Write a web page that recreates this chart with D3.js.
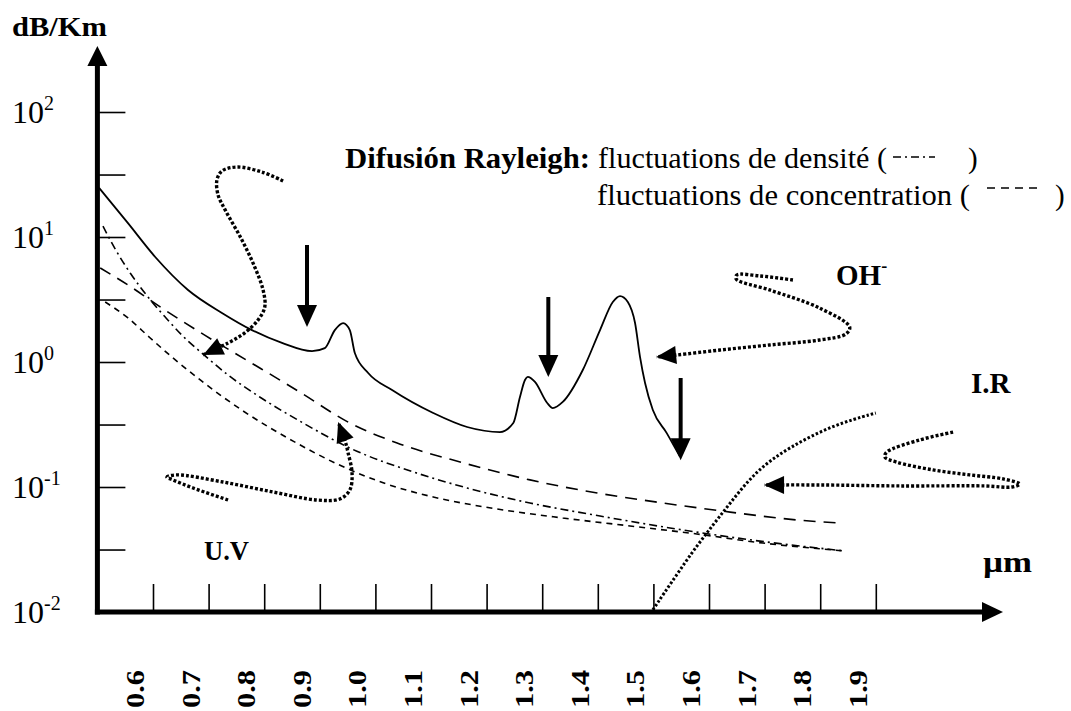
<!DOCTYPE html>
<html>
<head>
<meta charset="utf-8">
<script src="https://cdnjs.cloudflare.com/ajax/libs/d3/7.8.5/d3.min.js"></script>
<style>
	body { margin: 0; background: #fff; }
	svg text { font-family: "Liberation Serif", "Times New Roman", serif; fill: #000; }
</style>
</head>
<body>
<div id="vis"></div>
<script>

// wavelength (um), attenuation (dB/Km)
var totalLoss = [
	[0.503, 24.7], [0.555, 12.9], [0.604, 6.92], [0.663, 3.77], [0.724, 2.47],
	[0.778, 1.80], [0.832, 1.42], [0.886, 1.22], [0.909, 1.29], [0.927, 1.80], [0.942, 2.05],
	[0.954, 1.80], [0.963, 1.18], [0.987, 0.817], [1.030, 0.597], [1.104, 0.391], [1.165, 0.302],
	[1.224, 0.275], [1.248, 0.325], [1.260, 0.525], [1.269, 0.718], [1.274, 0.759], [1.287, 0.692],
	[1.309, 0.470], [1.319, 0.428], [1.337, 0.479], [1.373, 0.863], [1.404, 1.80], [1.427, 3.02],
	[1.440, 3.37], [1.454, 3.02], [1.467, 2.05], [1.476, 1.096], [1.485, 0.679], [1.499, 0.413],
	[1.524, 0.270], [1.548, 0.174]
];

var scatterLoss = [
	[0.505, 5.65], [0.555, 4.13], [0.616, 2.70], [0.693, 1.64], [0.774, 1.0], [0.864, 0.575],
	[0.954, 0.325], [1.039, 0.225], [1.158, 0.156], [1.278, 0.114], [1.399, 0.0895], [1.517, 0.0745],
	[1.638, 0.063], [1.758, 0.0545], [1.836, 0.0515]
];

var densityFluct = [
	[0.510, 12.2], [0.533, 7.87], [0.559, 5.15], [0.591, 3.31], [0.622, 2.29], [0.652, 1.64],
	[0.694, 1.117], [0.735, 0.787], [0.792, 0.525], [0.870, 0.325], [0.954, 0.205], [1.075, 0.129],
	[1.165, 0.0982], [1.278, 0.0745], [1.404, 0.0586], [1.553, 0.0453], [1.704, 0.0363], [1.844, 0.0308]
];

var concentrationFluct = [
	[0.514, 3.02], [0.555, 2.25], [0.595, 1.556], [0.634, 1.096], [0.685, 0.718], [0.762, 0.406],
	[0.852, 0.233], [0.931, 0.153], [1.014, 0.108], [1.104, 0.0832], [1.219, 0.0667], [1.337, 0.0565],
	[1.458, 0.0488], [1.578, 0.0421], [1.697, 0.0356], [1.844, 0.0308]
];

var irAbsorption = [
	[1.499, 0.0104], [1.562, 0.0270], [1.596, 0.0429], [1.638, 0.0745], [1.686, 0.137],
	[1.745, 0.209], [1.823, 0.313], [1.900, 0.391]
];

// hand drawn pointers (same units)
var pointerRayleigh = [
	[0.834, 28.1], [0.796, 33.1], [0.751, 36.3], [0.724, 33.7], [0.715, 28.6], [0.717, 21.7],
	[0.730, 16.4], [0.760, 9.46], [0.783, 5.75], [0.798, 3.77], [0.801, 2.75], [0.789, 2.17],
	[0.765, 1.71], [0.735, 1.42], [0.690, 1.14]
];

var pointerUV = [
	[0.735, 0.0787], [0.672, 0.0982], [0.636, 0.1138], [0.625, 0.120], [0.643, 0.125], [0.726, 0.1096],
	[0.816, 0.0912], [0.895, 0.0787], [0.936, 0.0802], [0.954, 0.0946], [0.958, 0.1294], [0.951, 0.187],
	[0.945, 0.238], [0.933, 0.331]
];

var pointerOH = [
	[1.751, 4.53], [1.692, 4.88], [1.650, 4.97], [1.649, 4.61], [1.709, 3.77], [1.799, 2.70],
	[1.853, 1.905], [1.846, 1.675], [1.799, 1.50], [1.709, 1.368], [1.620, 1.247], [1.542, 1.138],
	[1.505, 1.096]
];

var pointerIR = [
	[2.039, 0.275], [1.979, 0.238], [1.920, 0.1905], [1.916, 0.174], [1.938, 0.158], [2.003, 0.137],
	[2.069, 0.125], [2.129, 0.116], [2.159, 0.1057], [2.145, 0.1], [2.096, 0.102], [1.943, 0.102],
	[1.799, 0.1038], [1.699, 0.1038]
];

// wavelength, from, to (absorption peaks)
var peakArrows = [
	[0.877, 8.63, 1.905],
	[1.311, 3.31, 0.759],
	[1.549, 0.745, 0.164]
];

var xTicks = [0.6, 0.7, 0.8, 0.9, 1.0, 1.1, 1.2, 1.3, 1.4, 1.5, 1.6, 1.7, 1.8, 1.9];
var yTicks = [0.01, 0.0316, 0.1, 0.316, 1, 3.16, 10, 31.6, 100];
var yLabelExp = [-2, -1, 0, 1, 2];

var width = 1071, height = 711;

var svg = d3.select("#vis").append("svg")
	.attr("width", width)
	.attr("height", height);

var x = d3.scaleLinear()
	.domain([0.5, 1.9])
	.range([97.4, 875.8]);

var y = d3.scaleLog()
	.domain([0.01, 100])
	.range([612, 112]);

var line = d3.line()
	.x(function(d) { return x(d[0]); })
	.y(function(d) { return y(d[1]); });

// ticks
var yAxis = svg.append("g")
	.attr("transform", "translate(" + x(0.5) + ",0)")
	.call(d3.axisRight(y).tickValues(yTicks).tickSize(28).tickFormat(""));

var xAxis = svg.append("g")
	.attr("transform", "translate(0," + y(0.01) + ")")
	.call(d3.axisTop(x).tickValues(xTicks).tickSize(28).tickFormat(""));

svg.selectAll(".domain").remove();
svg.selectAll(".tick line").attr("stroke", "#000").attr("stroke-width", 1.6);

// axis lines with arrows
var x0 = x(0.5), y0 = y(0.01);

svg.append("line")
	.attr("x1", x0).attr("x2", x0)
	.attr("y1", y0 + 2.5).attr("y2", 62)
	.attr("stroke", "#000").attr("stroke-width", 5);

svg.append("path")
	.attr("d", "M" + (x0 - 10) + ",66 L" + x0 + ",46 L" + (x0 + 10) + ",66 Z")
	.attr("fill", "#000");

svg.append("line")
	.attr("x1", x0 - 2.5).attr("x2", 985)
	.attr("y1", y0).attr("y2", y0)
	.attr("stroke", "#000").attr("stroke-width", 5);

svg.append("path")
	.attr("d", "M982," + (y0 - 10) + " L1003," + y0 + " L982," + (y0 + 10) + " Z")
	.attr("fill", "#000");

// y labels
yLabelExp.forEach(function(e) {
	var t = svg.append("text")
		.attr("x", 12)
		.attr("y", y(Math.pow(10, e)) + 11)
		.style("font-size", "32px");
	t.append("tspan").text("10");
	t.append("tspan")
		.attr("dy", -13)
		.style("font-size", "20px")
		.text(e);
});

// x labels
xTicks.forEach(function(v) {
	svg.append("text")
		.attr("transform", "translate(" + (x(v) - 9) + ",708) rotate(-90)")
		.attr("textLength", 38)
		.attr("lengthAdjust", "spacingAndGlyphs")
		.style("font-size", "26px")
		.style("font-weight", "bold")
		.text(d3.format(".1f")(v));
});

// curves
svg.append("path")
	.datum(totalLoss)
	.attr("d", line.curve(d3.curveMonotoneX))
	.attr("fill", "none")
	.attr("stroke", "#000")
	.attr("stroke-width", 1.8);

svg.append("path")
	.datum(scatterLoss)
	.attr("d", line.curve(d3.curveMonotoneX))
	.attr("fill", "none")
	.attr("stroke", "#000")
	.attr("stroke-width", 1.6)
	.attr("stroke-dasharray", "12,8");

svg.append("path")
	.datum(densityFluct)
	.attr("d", line.curve(d3.curveMonotoneX))
	.attr("fill", "none")
	.attr("stroke", "#000")
	.attr("stroke-width", 1.6)
	.attr("stroke-dasharray", "8,4,2,4");

svg.append("path")
	.datum(concentrationFluct)
	.attr("d", line.curve(d3.curveMonotoneX))
	.attr("fill", "none")
	.attr("stroke", "#000")
	.attr("stroke-width", 1.6)
	.attr("stroke-dasharray", "6,5");

svg.append("path")
	.datum(irAbsorption)
	.attr("d", line.curve(d3.curveBasis))
	.attr("fill", "none")
	.attr("stroke", "#000")
	.attr("stroke-width", 3)
	.attr("stroke-dasharray", "2.5,2");

// peak arrows
peakArrows.forEach(function(a) {
	var ax = x(a[0]), top = y(a[1]), tip = y(a[2]);
	svg.append("line")
		.attr("x1", ax).attr("x2", ax)
		.attr("y1", top).attr("y2", tip - 18)
		.attr("stroke", "#000").attr("stroke-width", 4);
	svg.append("path")
		.attr("d", "M" + (ax - 10) + "," + (tip - 22) + " L" + ax + "," + tip + " L" + (ax + 10) + "," + (tip - 22) + " Z")
		.attr("fill", "#000");
});

// dotted pointers
function pointer(pts) {
	svg.append("path")
		.datum(pts)
		.attr("d", line.curve(d3.curveCatmullRom))
		.attr("fill", "none")
		.attr("stroke", "#000")
		.attr("stroke-width", 3.4)
		.attr("stroke-dasharray", "3,2");

	var p1 = pts[pts.length - 2], p2 = pts[pts.length - 1];
	var tx = x(p2[0]), ty = y(p2[1]);
	var ang = Math.atan2(ty - y(p1[1]), tx - x(p1[0]));
	var len = 20, hw = 9;
	var bx = tx - len * Math.cos(ang), by = ty - len * Math.sin(ang);
	svg.append("path")
		.attr("d", "M" + tx + "," + ty +
			" L" + (bx + hw * Math.sin(ang)) + "," + (by - hw * Math.cos(ang)) +
			" L" + (bx - hw * Math.sin(ang)) + "," + (by + hw * Math.cos(ang)) + " Z")
		.attr("fill", "#000");
}

pointer(pointerRayleigh);
pointer(pointerUV);
pointer(pointerOH);
pointer(pointerIR);

// texts
svg.append("text")
	.attr("x", 12).attr("y", 36)
	.attr("textLength", 95)
	.attr("lengthAdjust", "spacingAndGlyphs")
	.style("font-size", "27px")
	.style("font-weight", "bold")
	.text("dB/Km");

svg.append("text")
	.attr("x", 345).attr("y", 168)
	.attr("textLength", 245)
	.attr("lengthAdjust", "spacingAndGlyphs")
	.style("font-size", "29px")
	.style("font-weight", "bold")
	.text("Difusión Rayleigh:");

svg.append("text")
	.attr("x", 598).attr("y", 168)
	.attr("textLength", 289)
	.attr("lengthAdjust", "spacingAndGlyphs")
	.style("font-size", "29px")
	.text("fluctuations de densité (");

svg.append("text")
	.attr("x", 968).attr("y", 168)
	.style("font-size", "29px")
	.text(")");

svg.append("line")
	.attr("x1", 893).attr("x2", 935)
	.attr("y1", 157).attr("y2", 157)
	.attr("stroke", "#000").attr("stroke-width", 1.6)
	.attr("stroke-dasharray", "8,4,2,4");

svg.append("text")
	.attr("x", 597).attr("y", 205)
	.attr("textLength", 373)
	.attr("lengthAdjust", "spacingAndGlyphs")
	.style("font-size", "29px")
	.text("fluctuations de concentration (");

svg.append("line")
	.attr("x1", 987).attr("x2", 1042)
	.attr("y1", 188).attr("y2", 188)
	.attr("stroke", "#000").attr("stroke-width", 1.6)
	.attr("stroke-dasharray", "8,6");

svg.append("text")
	.attr("x", 1055).attr("y", 205)
	.style("font-size", "29px")
	.text(")");

var oh = svg.append("text")
	.attr("x", 836).attr("y", 285)
	.style("font-size", "29px")
	.style("font-weight", "bold");
oh.append("tspan").text("OH");
oh.append("tspan").attr("dy", -13).style("font-size", "18px").text("-");

svg.append("text")
	.attr("x", 971).attr("y", 393)
	.style("font-size", "29px")
	.style("font-weight", "bold")
	.text("I.R");

svg.append("text")
	.attr("x", 983).attr("y", 572)
	.attr("textLength", 49)
	.attr("lengthAdjust", "spacingAndGlyphs")
	.style("font-size", "29px")
	.style("font-weight", "bold")
	.text("µm");

svg.append("text")
	.attr("x", 204).attr("y", 560)
	.attr("textLength", 45)
	.attr("lengthAdjust", "spacingAndGlyphs")
	.style("font-size", "27px")
	.style("font-weight", "bold")
	.text("U.V");

</script>
</body>
</html>
